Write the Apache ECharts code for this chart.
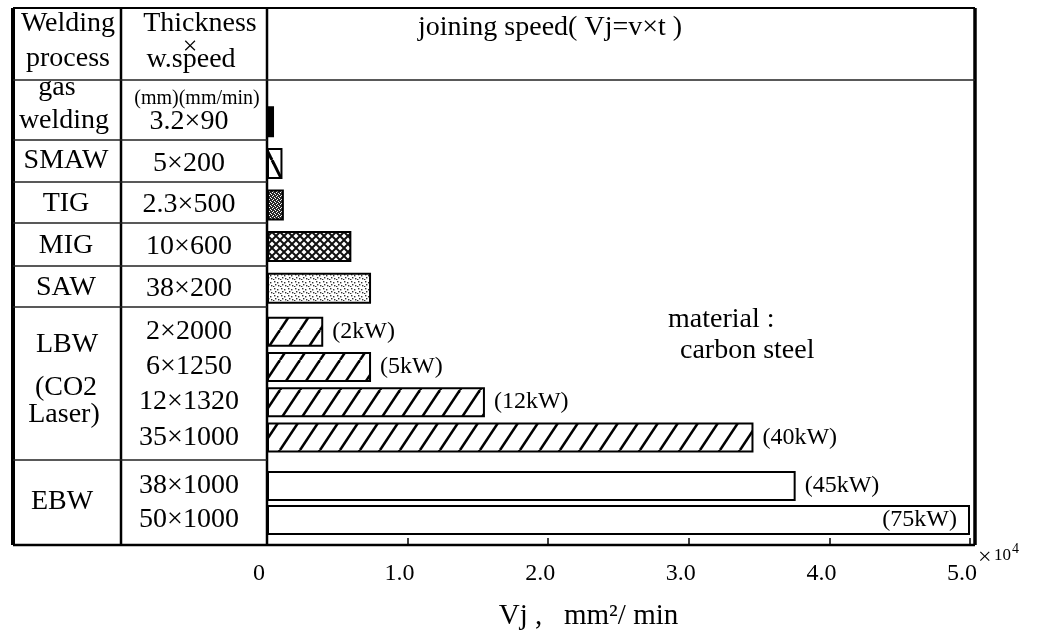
<!DOCTYPE html>
<html>
<head>
<meta charset="utf-8">
<script src="https://cdn.jsdelivr.net/npm/echarts@6.0.0/dist/echarts.min.js"></script>
<style>
html,body{margin:0;padding:0;background:#fff;}
#chart{width:1056px;height:634px;}
</style>
</head>
<body>
<div id="chart"></div>
<script>
// ---------------- data ----------------
const processNames = ['gas\nwelding', 'SMAW', 'TIG', 'MIG', 'SAW', 'LBW\n(CO2\nLaser)', 'EBW'];
const specs = ['3.2×90', '5×200', '2.3×500', '10×600', '38×200',
               '2×2000', '6×1250', '12×1320', '35×1000',
               '38×1000', '50×1000'];
// joining speed Vj, in units of 10^4 mm²/min
const joiningSpeed = [0.05, 0.11, 0.12, 0.60, 0.74,
                      0.40, 0.74, 1.55, 3.46,
                      3.76, 5.00];
const powerLabels = ['', '', '', '', '',
                     '(2kW)', '(5kW)', '(12kW)', '(40kW)',
                     '(45kW)', '(75kW)'];
const rowGroups = [[0, 5], [5, 9], [9, 11]];       // rows of each process block
const xTickLabels = ['0', '1.0', '2.0', '3.0', '4.0', '5.0'];
const headerProcess = 'Welding\nprocess';
const headerSpec = ['Thickness', '×', 'w.speed'];
const headerUnits = '(mm)(mm/min)';
const headerTitle = 'joining speed( Vj=v×t )';
const noteLines = ['material :', 'carbon steel'];
const axisTitle = 'Vj ,   mm²/ min';
const axisMultiplier = ['×', '10', '4'];

// ---------------- style / layout ----------------
const FONT = '"Liberation Serif", "Times New Roman", serif';
const INK = '#000';
const fillKinds = ['solid', 'backslash', 'dense', 'cross', 'stipple',
                   'slash', 'slash', 'slash', 'slash', 'white', 'white'];
const labelPlace = ['right', 'right', 'right', 'right', 'right',
                    'right', 'right', 'right', 'right', 'right', 'insideRight'];
const gridBoxes = [{top: 101, height: 208, bar: 31},
                   {top: 314, height: 141, bar: 30},
                   {top: 469, height: 68, bar: 30}];
const PL = 267, PR = 970, TOP = 8, BOT = 545, LEFT = 13, RIGHTB = 975, COL = 121, HEAD = 80;
const processLinePos = [[[57, 88], [64, 121]], [[66, 161]], [[66, 204]], [[66, 246]], [[66, 288]],
                        [[67, 345], [66, 388], [64, 415]], [[62, 502]]];
const rowLines = [140, 182, 223, 266, 307, 460];

function makePattern(kind) {
  const c = document.createElement('canvas');
  let g;
  if (kind === 'backslash') {
    c.width = 16; c.height = 32; g = c.getContext('2d');
    g.fillStyle = '#fff'; g.fillRect(0, 0, 16, 32);
    g.strokeStyle = '#000'; g.lineWidth = 3;
    [-16, 0, 16].forEach(x0 => { g.beginPath(); g.moveTo(x0, 0); g.lineTo(x0 + 16, 32); g.stroke(); });
  } else if (kind === 'dense') {
    c.width = 4; c.height = 4; g = c.getContext('2d');
    g.fillStyle = '#2a2a2a'; g.fillRect(0, 0, 4, 4);
    g.fillStyle = '#fff';
    g.fillRect(0, 0, 1, 1); g.fillRect(2, 1, 1, 1); g.fillRect(1, 3, 1, 1); g.fillRect(3, 2, 1, 1);
  } else if (kind === 'cross') {
    c.width = 8; c.height = 8; g = c.getContext('2d');
    g.fillStyle = '#fff'; g.fillRect(0, 0, 8, 8);
    g.strokeStyle = '#111'; g.lineWidth = 2;
    g.beginPath(); g.moveTo(0, 0); g.lineTo(8, 8); g.moveTo(8, 0); g.lineTo(0, 8); g.stroke();
  } else if (kind === 'stipple') {
    c.width = 7; c.height = 7; g = c.getContext('2d');
    g.fillStyle = '#fff'; g.fillRect(0, 0, 7, 7);
    g.fillStyle = '#333';
    [[1, 1], [4, 2], [2, 4], [5, 5], [0, 6]].forEach(p => g.fillRect(p[0], p[1], 1.4, 1.4));
  } else if (kind === 'slash') {
    c.width = 20; c.height = 30; g = c.getContext('2d');
    g.fillStyle = '#fff'; g.fillRect(0, 0, 20, 30);
    g.strokeStyle = '#000'; g.lineWidth = 2.6;
    [-20, 0, 20].forEach(x0 => { g.beginPath(); g.moveTo(x0, 30); g.lineTo(x0 + 20, 0); g.stroke(); });
  } else {
    return kind === 'solid' ? '#000' : '#fff';
  }
  return {image: c, repeat: 'repeat'};
}

const grids = [], xAxes = [], yAxes = [], series = [];
rowGroups.forEach((rg, gi) => {
  const gb = gridBoxes[gi];
  grids.push({left: PL, width: PR - PL, top: gb.top, height: gb.height, outerBoundsMode: 'none', containLabel: false});
  const last = gi === rowGroups.length - 1;
  xAxes.push({
    type: 'value', gridIndex: gi, min: 0, max: 5, interval: 1, show: last,
    offset: last ? BOT - (gb.top + gb.height) : 0,
    splitLine: {show: false},
    axisLine: {show: true, lineStyle: {color: '#000', width: 2}},
    axisTick: {show: true, inside: true, length: 7, lineStyle: {color: '#000', width: 1.5}},
    axisLabel: {
      show: true, margin: 17, fontSize: 24, fontFamily: FONT, color: INK,
      padding: [0, 16, 0, 0],
      formatter: v => xTickLabels[Math.round(v)]
    },
    name: last ? axisTitle : '',
    nameLocation: 'middle', nameGap: 57,
    nameTextStyle: {fontSize: 29, fontFamily: FONT, color: INK, padding: [0, 60, 0, 0]}
  });
  yAxes.push({
    type: 'category', gridIndex: gi, inverse: true,
    data: specs.slice(rg[0], rg[1]),
    axisLine: {show: false}, axisTick: {show: false}, splitLine: {show: false},
    axisLabel: {interval: 0, align: 'center', margin: PL - 189, fontSize: 28, fontFamily: FONT, color: INK}
  });
  const data = [];
  for (let k = rg[0]; k < rg[1]; k++) {
    const lbl = powerLabels[k];
    data.push({
      value: joiningSpeed[k],
      itemStyle: {color: makePattern(fillKinds[k]), borderColor: '#000', borderWidth: 2},
      label: {
        show: lbl !== '', formatter: () => lbl,
        position: labelPlace[k], distance: labelPlace[k] === 'insideRight' ? 13 : 9,
        fontSize: 24, fontFamily: FONT, color: INK
      }
    });
  }
  series.push({
    type: 'bar', xAxisIndex: gi, yAxisIndex: gi, barWidth: gb.bar,
    data: data, animation: false, silent: true
  });
});

function txt(text, x, y, size, align) {
  const a = align || 'center';
  return {type: 'text', silent: true, z: 50, style: {
    text: text, x: x, y: y, font: size + 'px ' + FONT, fill: INK,
    align: a, verticalAlign: 'middle', textAlign: a, textVerticalAlign: 'middle'}};
}
function seg(x1, y1, x2, y2, w, color) {
  return {type: 'line', silent: true, z: 60, shape: {x1, y1, x2, y2},
          style: {stroke: color || '#000', lineWidth: w}};
}

const graphics = [];
// frame
graphics.push(seg(LEFT, TOP, RIGHTB, TOP, 2));
graphics.push(seg(LEFT, BOT, RIGHTB, BOT, 2.5));
graphics.push(seg(LEFT, TOP, LEFT, BOT, 4));
graphics.push(seg(RIGHTB, TOP, RIGHTB, BOT, 3.5));
graphics.push(seg(COL, TOP, COL, BOT, 2.5));
graphics.push(seg(PL, TOP, PL, BOT, 2.5));
graphics.push(seg(LEFT, HEAD, RIGHTB, HEAD, 1.5, '#222'));
rowLines.forEach(y => graphics.push(seg(LEFT, y, PL, y, 1.5, '#222')));
// header
const hp = headerProcess.split('\n');
graphics.push(txt(hp[0], 68, 24, 28));
graphics.push(txt(hp[1], 68, 59, 28));
graphics.push(txt(headerSpec[0], 200, 24, 28));
graphics.push(txt(headerSpec[1], 190, 47, 26));
graphics.push(txt(headerSpec[2], 191, 60, 28));
graphics.push(txt(headerUnits, 197, 99, 20));
graphics.push(txt(headerTitle, 418, 28, 28, 'left'));
// process names
processNames.forEach((p, i) => {
  p.split('\n').forEach((line, j) => {
    const pos = processLinePos[i][j];
    graphics.push(txt(line, pos[0], pos[1], 28));
  });
});
// note
graphics.push(txt(noteLines[0], 668, 320, 28, 'left'));
graphics.push(txt(noteLines[1], 680, 351, 28, 'left'));
// axis multiplier
graphics.push(txt(axisMultiplier[0], 978, 558, 24, 'left'));
graphics.push(txt(axisMultiplier[1], 994, 556, 17, 'left'));
graphics.push(txt(axisMultiplier[2], 1012, 549, 14, 'left'));

const chart = echarts.init(document.getElementById('chart'), null, {renderer: 'canvas'});
chart.setOption({
  animation: false,
  backgroundColor: '#fff',
  grid: grids,
  xAxis: xAxes,
  yAxis: yAxes,
  series: series,
  graphic: {elements: graphics}
});
</script>
</body>
</html>
